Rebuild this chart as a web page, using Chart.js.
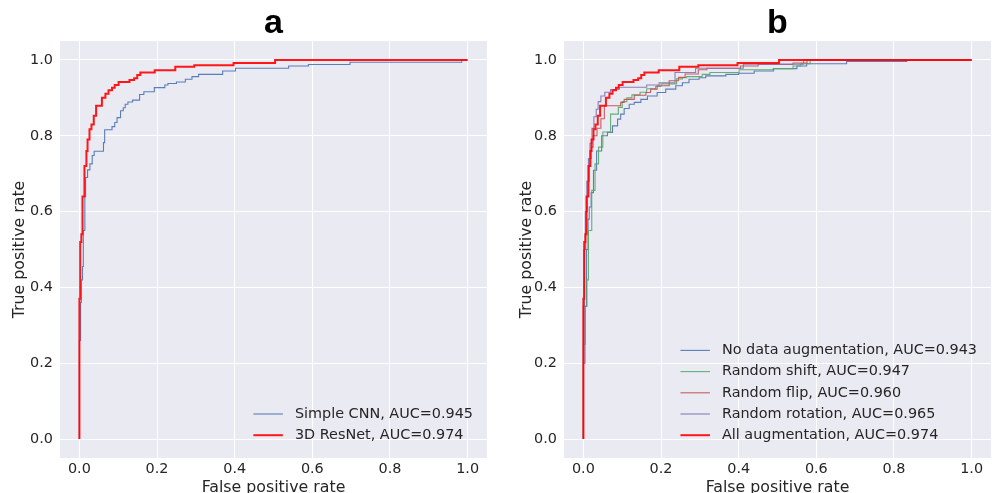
<!DOCTYPE html>
<html>
<head>
<meta charset="utf-8">
<script src="https://cdn.jsdelivr.net/npm/chart.js@4.4.0/dist/chart.umd.min.js"></script>
<style>
html, body { margin:0; padding:0; background:#fff; overflow:hidden; }
#wrap { position:relative; width:992px; height:493px; overflow:hidden; }
#chartA { position:absolute; left:0; top:0; }
#chartB { position:absolute; left:500px; top:0; }
</style>
</head>
<body>
<div id="wrap">
  <canvas id="chartA" width="500" height="500"></canvas>
  <canvas id="chartB" width="492" height="500"></canvas>
</div>
<script>
// ==================== DATA ====================
const tickValues = [0, 0.2, 0.4, 0.6, 0.8, 1.0];
const axisMin = -0.05, axisMax = 1.05;

// panel a
const labelsA = ["Simple CNN, AUC=0.945", "3D ResNet, AUC=0.974"];
const cnnFpr = [0, 0, 0.003, 0.005, 0.008, 0.010, 0.014, 0.016, 0.021, 0.027, 0.033, 0.038, 0.062, 0.065, 0.084, 0.091, 0.097, 0.106, 0.113, 0.118, 0.125, 0.137, 0.155, 0.166, 0.193, 0.22, 0.228, 0.25, 0.273, 0.29, 0.307, 0.369, 0.402, 0.539, 0.59, 0.697, 0.985, 1.0];
const cnnTpr = [0, 0.26, 0.36, 0.42, 0.455, 0.55, 0.64, 0.69, 0.71, 0.726, 0.748, 0.759, 0.782, 0.816, 0.824, 0.835, 0.848, 0.866, 0.874, 0.883, 0.889, 0.894, 0.909, 0.916, 0.927, 0.934, 0.938, 0.942, 0.949, 0.956, 0.962, 0.971, 0.978, 0.984, 0.988, 0.994, 1.0, 1.0];
const resnetFpr = [0, 0, 0.002, 0.005, 0.008, 0.013, 0.018, 0.021, 0.026, 0.031, 0.037, 0.043, 0.058, 0.067, 0.075, 0.084, 0.091, 0.101, 0.129, 0.141, 0.149, 0.157, 0.194, 0.247, 0.296, 0.397, 0.504, 1.0];
const resnetTpr = [0, 0.37, 0.52, 0.54, 0.64, 0.72, 0.76, 0.79, 0.817, 0.83, 0.853, 0.879, 0.90, 0.911, 0.92, 0.927, 0.934, 0.942, 0.947, 0.952, 0.96, 0.967, 0.973, 0.982, 0.986, 0.992, 1.0, 1.0];

// panel b
const labelsB = ["No data augmentation, AUC=0.943", "Random shift, AUC=0.947", "Random flip, AUC=0.960", "Random rotation, AUC=0.965", "All augmentation, AUC=0.974"];
const noAugFpr = [0, 0, 0.004, 0.008, 0.012, 0.015, 0.02, 0.026, 0.034, 0.047, 0.062, 0.075, 0.088, 0.096, 0.105, 0.118, 0.131, 0.148, 0.165, 0.19, 0.212, 0.238, 0.255, 0.272, 0.298, 0.315, 0.367, 0.40, 0.44, 0.49, 0.55, 0.575, 0.678, 0.833, 1.0];
const noAugTpr = [0, 0.2, 0.35, 0.5, 0.58, 0.612, 0.65, 0.709, 0.76, 0.80, 0.809, 0.826, 0.844, 0.857, 0.872, 0.883, 0.888, 0.896, 0.905, 0.914, 0.923, 0.932, 0.94, 0.949, 0.953, 0.958, 0.962, 0.965, 0.971, 0.977, 0.984, 0.99, 0.996, 1.0, 1.0];
const shiftFpr = [0, 0, 0.005, 0.009, 0.013, 0.0215, 0.03, 0.039, 0.05, 0.07, 0.09, 0.1, 0.112, 0.125, 0.146, 0.163, 0.186, 0.2, 0.24, 0.255, 0.266, 0.306, 0.326, 0.401, 0.489, 0.54, 0.56, 0.584, 1.0];
const shiftTpr = [0, 0.25, 0.35, 0.42, 0.55, 0.656, 0.726, 0.77, 0.81, 0.857, 0.875, 0.89, 0.90, 0.908, 0.915, 0.924, 0.93, 0.937, 0.95, 0.953, 0.956, 0.962, 0.967, 0.974, 0.977, 0.984, 0.99, 1.0, 1.0];
const flipFpr = [0, 0, 0.002, 0.006, 0.01, 0.015, 0.02, 0.025, 0.035, 0.045, 0.054, 0.096, 0.105, 0.131, 0.161, 0.173, 0.19, 0.221, 0.245, 0.262, 0.296, 0.318, 0.405, 0.45, 0.54, 0.576, 1.0];
const flipTpr = [0, 0.35, 0.5, 0.6, 0.68, 0.74, 0.77, 0.8, 0.82, 0.845, 0.879, 0.888, 0.896, 0.907, 0.914, 0.923, 0.932, 0.945, 0.954, 0.963, 0.974, 0.978, 0.984, 0.988, 0.992, 1.0, 1.0];
const rotFpr = [0, 0, 0.002, 0.005, 0.009, 0.013, 0.017, 0.022, 0.027, 0.033, 0.038, 0.045, 0.055, 0.07, 0.092, 0.163, 0.195, 0.236, 0.289, 0.412, 0.567, 1.0];
const rotTpr = [0, 0.35, 0.5, 0.6, 0.68, 0.74, 0.78, 0.82, 0.85, 0.87, 0.89, 0.905, 0.915, 0.922, 0.928, 0.934, 0.94, 0.967, 0.978, 0.989, 1.0, 1.0];

// ==================== STYLE ====================
const FONT = "'DejaVu Sans', sans-serif";
const TEXT = "#262626";
const BG = "#EAEAF2";

function toPoints(fpr, tpr){
    return fpr.map((x, i) => ({x: x, y: tpr[i]}));
}

function curve(label, fpr, tpr, color, width, order){
    return {
        label: label,
        data: toPoints(fpr, tpr),
        borderColor: color,
        backgroundColor: color,
        borderWidth: width,
        order: order
    };
}

// grey panel background like seaborn darkgrid
const panelBg = {
    id: 'panelBg',
    beforeDraw(chart){
        const {ctx, chartArea: a} = chart;
        ctx.save();
        ctx.fillStyle = '#fff';
        ctx.fillRect(0, 0, chart.width, chart.height);
        ctx.fillStyle = BG;
        ctx.fillRect(a.left, a.top, a.right - a.left, a.bottom - a.top);
        ctx.restore();
    }
};

// legend inside the plot, lower right, no frame
const innerLegend = {
    id: 'innerLegend',
    afterDatasetsDraw(chart){
        const {ctx, chartArea: a} = chart;
        const sets = chart.data.datasets;
        const rowH = 21.2, handle = 29.5, gap = 12;
        ctx.save();
        ctx.font = "14.4px " + FONT;
        let maxW = 0;
        sets.forEach(d => { maxW = Math.max(maxW, ctx.measureText(d.label).width); });
        const x0 = a.right - 14 - maxW - gap - handle;
        const yLast = a.bottom - 22.8;
        sets.forEach((d, i) => {
            const y = yLast - (sets.length - 1 - i) * rowH;
            ctx.strokeStyle = d.borderColor;
            ctx.lineWidth = d.borderWidth;
            ctx.beginPath();
            ctx.moveTo(x0, y);
            ctx.lineTo(x0 + handle, y);
            ctx.stroke();
            ctx.fillStyle = TEXT;
            ctx.textBaseline = 'middle';
            ctx.textAlign = 'left';
            ctx.fillText(d.label, x0 + handle + gap, y);
        });
        ctx.restore();
    }
};

function makeChart(id, datasets, titleText, yWidth, yTitlePad, padRight){
    return new Chart(document.getElementById(id), {
        type: 'line',
        data: { datasets: datasets },
        options: {
            responsive: false,
            animation: false,
            layout: { padding: { left: 0, right: padRight, top: 0, bottom: 0 } },
            elements: {
                point: { radius: 0 },
                line: { tension: 0, stepped: 'before' }
            },
            plugins: {
                legend: { display: false },
                tooltip: { enabled: false },
                title: {
                    display: true,
                    text: titleText,
                    fullSize: false,
                    color: '#000',
                    font: { family: "'Liberation Sans', Arial, sans-serif", size: 34, weight: 'bold', lineHeight: 1 },
                    padding: { top: 7, bottom: 0 }
                }
            },
            scales: {
                x: {
                    type: 'linear',
                    min: axisMin,
                    max: axisMax,
                    afterBuildTicks: s => { s.ticks = tickValues.map(v => ({value: v})); },
                    afterFit: s => { s.height = 42; },
                    grid: { color: '#fff', lineWidth: 1, drawTicks: false },
                    border: { display: false },
                    ticks: {
                        color: TEXT,
                        font: { family: FONT, size: 14.4 },
                        padding: 3,
                        maxRotation: 0,
                        callback: v => v.toFixed(1)
                    },
                    title: {
                        display: true,
                        text: 'False positive rate',
                        color: TEXT,
                        font: { family: FONT, size: 15.8 },
                        padding: { top: 0, bottom: 3 }
                    }
                },
                y: {
                    type: 'linear',
                    min: axisMin,
                    max: axisMax,
                    afterBuildTicks: s => { s.ticks = tickValues.map(v => ({value: v})); },
                    afterFit: s => { s.width = yWidth; },
                    grid: { color: '#fff', lineWidth: 1, drawTicks: false },
                    border: { display: false },
                    ticks: {
                        color: TEXT,
                        font: { family: FONT, size: 14.4 },
                        padding: 7,
                        callback: v => v.toFixed(1)
                    },
                    title: {
                        display: true,
                        text: 'True positive rate',
                        color: TEXT,
                        font: { family: FONT, size: 15.8 },
                        padding: { top: yTitlePad, bottom: 0 }
                    }
                }
            }
        },
        plugins: [panelBg, innerLegend]
    });
}

// ==================== CHARTS ====================
makeChart('chartA', [
    curve(labelsA[0], cnnFpr, cnnTpr, 'rgba(76,114,176,0.9)', 1.1, 2),
    curve(labelsA[1], resnetFpr, resnetTpr, 'rgba(255,0,0,0.9)', 2, 1)
], 'a', 60, 10.5, 13);

makeChart('chartB', [
    curve(labelsB[0], noAugFpr, noAugTpr, 'rgba(76,114,176,0.9)', 1.1, 5),
    curve(labelsB[1], shiftFpr, shiftTpr, 'rgba(85,168,104,0.9)', 1.1, 4),
    curve(labelsB[2], flipFpr, flipTpr, 'rgba(196,78,82,0.9)', 1.1, 3),
    curve(labelsB[3], rotFpr, rotTpr, 'rgba(129,114,178,0.9)', 1.1, 2),
    curve(labelsB[4], resnetFpr, resnetTpr, 'rgba(255,0,0,0.9)', 2, 1)
], 'b', 64, 17.5, 1);
</script>
</body>
</html>
